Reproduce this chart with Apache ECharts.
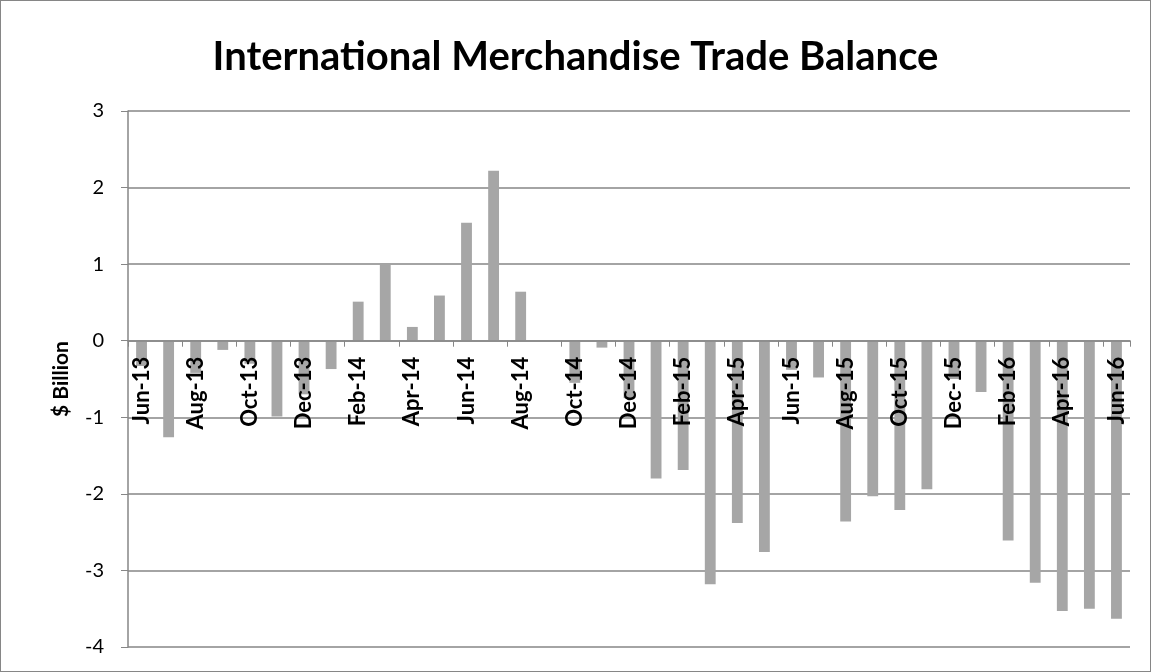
<!DOCTYPE html>
<html>
<head>
<meta charset="utf-8">
<script src="https://cdn.jsdelivr.net/npm/echarts@6/dist/echarts.min.js"></script>
<style>
html,body{margin:0;padding:0;background:#fff;}
#wrap{position:absolute;left:0;top:0;width:1149px;height:670px;border:1px solid #868686;}
#chart{width:1149px;height:670px;}
</style>
</head>
<body>
<div id="wrap"><div id="chart"></div></div>
<script>
const categories = ["Jun-13","Jul-13","Aug-13","Sep-13","Oct-13","Nov-13","Dec-13","Jan-14","Feb-14","Mar-14","Apr-14","May-14","Jun-14","Jul-14","Aug-14","Sep-14","Oct-14","Nov-14","Dec-14","Jan-15","Feb-15","Mar-15","Apr-15","May-15","Jun-15","Jul-15","Aug-15","Sep-15","Oct-15","Nov-15","Dec-15","Jan-16","Feb-16","Mar-16","Apr-16","May-16","Jun-16"];
const balance = [-0.33,-1.26,-0.42,-0.12,-0.3,-0.99,-0.7,-0.37,0.51,1.0,0.18,0.59,1.54,2.22,0.64,0,-0.55,-0.09,-0.75,-1.8,-1.69,-3.18,-2.38,-2.76,-0.38,-0.48,-2.36,-2.03,-2.21,-1.94,-0.5,-0.67,-2.61,-3.16,-3.53,-3.5,-3.63];
const yMin = -4, yMax = 3, yStep = 1;
const titleText = "International Merchandise Trade Balance";
const yAxisName = "$ Billion";

const chart = echarts.init(document.getElementById('chart'));
const font = 'Lato, "Liberation Sans", sans-serif';
chart.setOption({
  animation: false,
  title: {
    text: titleText,
    left: 'center',
    top: 31,
    textStyle: {fontFamily: font, fontSize: 40, fontWeight: 'bold', color: '#000'}
  },
  grid: {left: 127, right: 20, top: 110, bottom: 24, containLabel: false, outerBoundsMode: 'none'},
  xAxis: {
    type: 'category',
    data: categories,
    z: 10,
    axisLine: {onZero: false, lineStyle: {color: '#868686', width: 1.5}},
    axisTick: {show: true, interval: 1, length: 6, inside: false, lineStyle: {color: '#868686'}},
    axisLabel: {
      interval: 1,
      rotate: 90,
      margin: 16,
      fontFamily: font,
      fontSize: 22,
      fontWeight: 'bold',
      color: '#000'
    }
  },
  yAxis: {
    type: 'value',
    min: yMin,
    max: yMax,
    interval: yStep,
    name: yAxisName,
    nameLocation: 'middle',
    nameGap: 56,
    nameTextStyle: {fontFamily: font, fontSize: 21, fontWeight: 'bold', color: '#000'},
    axisLine: {show: true, lineStyle: {color: '#868686', width: 1.5}},
    axisTick: {show: true, length: 7, lineStyle: {color: '#868686'}},
    axisLabel: {fontFamily: font, fontSize: 20, color: '#000', margin: 24},
    splitLine: {show: true, lineStyle: {color: '#868686', width: 1.5}}
  },
  series: [{
    type: 'bar',
    data: balance,
    barWidth: '40%',
    z: 2,
    itemStyle: {color: '#a6a6a6'}
  }]
});
// move the category axis to the zero line using the library's own scale
const pZero = chart.convertToPixel({yAxisIndex: 0}, 0);
const pBottom = chart.convertToPixel({yAxisIndex: 0}, yMin);
chart.setOption({xAxis: {offset: pZero - pBottom}});
</script>
</body>
</html>
